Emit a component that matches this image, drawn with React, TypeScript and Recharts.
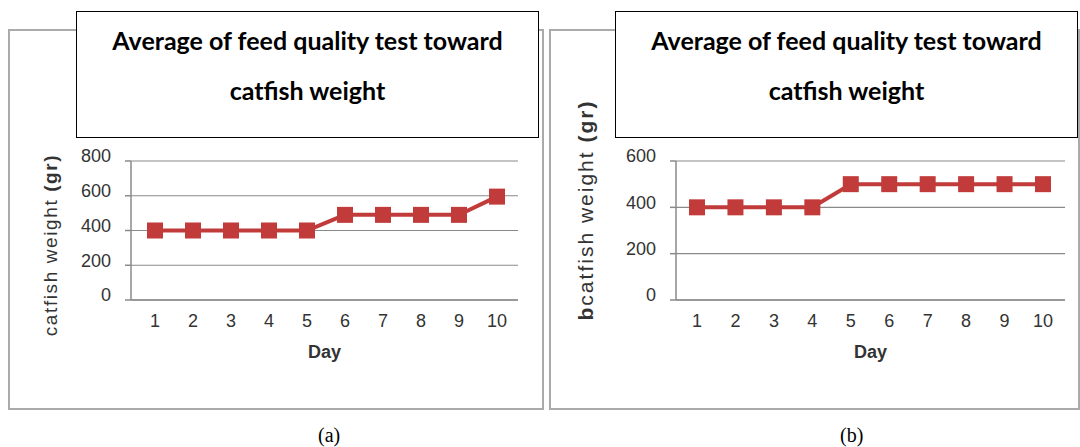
import React from 'react'
import { LineChart, Line, XAxis, YAxis, CartesianGrid, Label } from 'recharts'

const days = ['1', '2', '3', '4', '5', '6', '7', '8', '9', '10']
const weightA = [400, 400, 400, 400, 400, 490, 490, 490, 490, 595]
const weightB = [400, 400, 400, 400, 500, 500, 500, 500, 500, 500]
const ticksA = [0, 200, 400, 600, 800]
const ticksB = [0, 200, 400, 600]
const titleLines = ['Average of feed quality test toward', 'catfish weight']

const RED = '#c23b3b'
const AXIS = '#8a8a8a'
const TICK_FONT = '"Liberation Sans", Arial, sans-serif'

const dataA = days.map((d, i) => ({ day: d, weight: weightA[i] }))
const dataB = days.map((d, i) => ({ day: d, weight: weightB[i] }))

const SquareDot = (props: any) => {
  const { cx, cy, index } = props
  if (cx == null || cy == null) return null
  return <rect key={`sq-${index}`} x={cx - 8} y={cy - 8} width={16} height={16} fill={RED} />
}

const YTitle = ({ cx, cy, prefix, size, spacing }: { cx: number; cy: number; prefix?: string; size: number; spacing: number }) => (
  <text
    x={cx}
    y={cy}
    transform={`rotate(-90, ${cx}, ${cy})`}
    textAnchor="middle"
    dominantBaseline="central"
    fontFamily={TICK_FONT}
    fontSize={size}
    letterSpacing={spacing}
    fill="#333"
  >
    {prefix && <tspan fontWeight="bold">{prefix}</tspan>}
    <tspan>catfish weight </tspan>
    <tspan fontWeight="bold">(gr)</tspan>
  </text>
)

const TitleBox = ({ left }: { left: number }) => (
  <div
    style={{
      position: 'absolute',
      left,
      top: 11,
      width: 463,
      height: 127,
      background: '#fff',
      border: '1.5px solid #000',
      boxSizing: 'border-box',
      fontFamily: 'Lato, "Open Sans", sans-serif',
      fontWeight: 'bold',
      fontSize: 25,
      color: '#000',
      textAlign: 'center',
      paddingTop: 3,
    }}
  >
    {titleLines.map((t) => (
      <div key={t} style={{ height: 50, lineHeight: '50px' }}>{t}</div>
    ))}
  </div>
)

interface PanelProps {
  left: number
  width: number
  data: { day: string; weight: number }[]
  ticks: number[]
  yLabelX: number
  yLabelY: number
  labelSize: number
  labelSpacing: number
  prefix?: string
  axisWidth: number
  marginRight: number
  padL: number
  padR: number
}

const Panel = ({ left, width, data, ticks, yLabelX, yLabelY, labelSize, labelSpacing, prefix, axisWidth, marginRight, padL, padR }: PanelProps) => (
  <div style={{ position: 'absolute', left, top: 90 }}>
    <LineChart
      width={width}
      height={290}
      data={data}
      margin={{ top: 71, right: marginRight, bottom: 20, left: 0 }}
    >
      <CartesianGrid horizontal vertical={false} stroke={AXIS} strokeWidth={1.2} />
      <XAxis
        dataKey="day"
        height={60}
        stroke={AXIS}
        strokeWidth={1.5}
        tickLine={false}
        tickMargin={8}
        padding={{ left: padL, right: padR }}
        tick={{ fontFamily: TICK_FONT, fontSize: 18, fill: '#333' }}
      >
        <Label
          value="Day"
          position="insideBottom"
          offset={2}
          style={{ fontFamily: TICK_FONT, fontSize: 18, fontWeight: 'bold', fill: '#333' }}
        />
      </XAxis>
      <YAxis
        domain={[0, ticks[ticks.length - 1]]}
        ticks={ticks}
        interval={0}
        width={axisWidth}
        stroke={AXIS}
        strokeWidth={1.5}
        tickSize={6}
        tickMargin={14}
        tick={{ fontFamily: TICK_FONT, fontSize: 18, fill: '#333', dy: -5 }}
      >
        <Label
          content={() => (
            <YTitle cx={yLabelX} cy={yLabelY} prefix={prefix} size={labelSize} spacing={labelSpacing} />
          )}
        />
      </YAxis>
      <Line
        dataKey="weight"
        stroke={RED}
        strokeWidth={4}
        dot={SquareDot}
        activeDot={false}
        isAnimationActive={false}
      />
    </LineChart>
  </div>
)

export default function App() {
  return (
    <div style={{ position: 'absolute', left: 0, top: 0, width: 1080, height: 447, background: '#fff', overflow: 'hidden' }}>
      <div style={{ position: 'absolute', left: 8, top: 29, width: 536, height: 381, border: '2px solid #aaa', boxSizing: 'border-box' }} />
      <div style={{ position: 'absolute', left: 549, top: 29, width: 531, height: 381, border: '2px solid #aaa', boxSizing: 'border-box' }} />
      <Panel
        left={10}
        width={530}
        data={dataA}
        ticks={ticksA}
        yLabelX={40}
        yLabelY={155}
        labelSize={19}
        labelSpacing={1.6}
        axisWidth={121}
        marginRight={22}
        padL={24}
        padR={21}
      />
      <Panel
        left={551}
        width={525}
        data={dataB}
        ticks={ticksB}
        yLabelX={34}
        yLabelY={120}
        labelSize={21}
        labelSpacing={2}
        prefix="b"
        axisWidth={125}
        marginRight={11}
        padL={21}
        padR={22}
      />
      <TitleBox left={76} />
      <TitleBox left={615} />
      <div style={{ position: 'absolute', left: 318, top: 424, fontFamily: '"Liberation Serif", serif', fontSize: 20 }}>(a)</div>
      <div style={{ position: 'absolute', left: 840, top: 424, fontFamily: '"Liberation Serif", serif', fontSize: 20 }}>(b)</div>
    </div>
  )
}
